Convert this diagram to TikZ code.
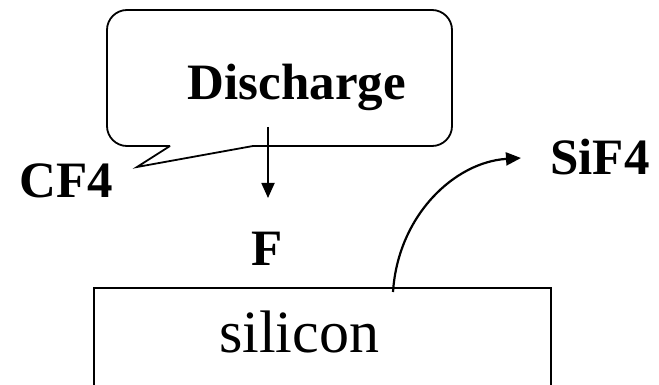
\documentclass[tikz,border=0pt]{standalone}
\usepackage{fontspec}
\setmainfont{Liberation Serif}
\usetikzlibrary{arrows.meta}
\begin{document}
\begin{tikzpicture}[x=1pt,y=-1pt,
  lbl/.style={font=\fontsize{51}{51}\selectfont\bfseries, anchor=base, inner sep=0pt},
  reg/.style={font=\fontsize{60}{60}\selectfont, anchor=base, inner sep=0pt},
  edge/.style={line width=1.8pt},
  arr/.style={line width=1.8pt, -{Triangle[length=15pt,width=13pt]}}]
\useasboundingbox (0,0) rectangle (659,385);
% callout
\draw[edge, rounded corners=20pt] (170,146) -- (107,146) -- (107,10) -- (452,10) -- (452,146) -- (253,146);
\draw[edge, line join=miter] (170,146) -- (137,167) -- (253,146);
\node[lbl] (dis) at (297,100) {Discharge};
\coordinate (dstart) at (268,127);
\node[lbl] (f) at (267,265) {F};
\coordinate (dend) at (268,198);
\draw[arr] (dstart) -- (dend);
\node[lbl] (cf4) at (66,197) {CF4};
\node[lbl] (sif4) at (600,175) {SiF4};
% silicon block
\draw[edge] (94,385) -- (94,288) -- (551,288) -- (551,385);
\node[reg] (si) at (299,352) {silicon};
\coordinate (cs) at (393,292);
\coordinate (ce) at (521,158);
\draw[arr, line width=2.2pt] (cs) .. controls (398,215) and (455,162) .. (ce);
\end{tikzpicture}
\end{document}
